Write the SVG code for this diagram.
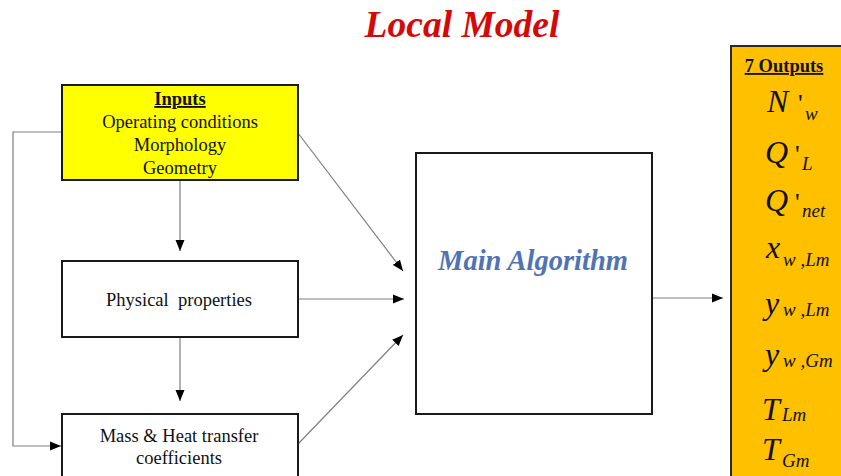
<svg xmlns="http://www.w3.org/2000/svg" width="841" height="476" viewBox="0 0 841 476">
  <style>
    .box { fill: #ffffff; stroke: #1a1a1a; stroke-width: 2; }
    .lbl { font-family: "Liberation Serif", "Times New Roman", serif; font-size: 18.5px; fill: #111; text-anchor: middle; }
    .bold { font-weight: bold; text-decoration: underline; }
    .conn { fill: none; stroke: #7f7f7f; stroke-width: 1.2; marker-end: url(#arrow); }
    .m { font-family: "Liberation Serif", "Times New Roman", serif; font-style: italic; font-size: 32px; fill: #111; }
    .s { font-size: 19px; }
    .p { font-style: normal; font-size: 26px; }
  </style>
  <defs>
    <marker id="arrow" markerUnits="userSpaceOnUse" markerWidth="12" markerHeight="10" refX="11" refY="5" orient="auto">
      <path d="M0,0.5 L11,5 L0,9.5 z" fill="#000"/>
    </marker>
  </defs>
  <rect width="841" height="476" fill="#ffffff"/>

  <!-- title -->
  <text x="462" y="37" font-family="'Liberation Serif', 'Times New Roman', serif" font-size="37.5" font-weight="bold" font-style="italic" fill="#d40a0a" text-anchor="middle">Local Model</text>

  <!-- connectors -->
  <g id="connectors">
    <path class="conn" d="M180,180 V251"/>
    <path class="conn" d="M180,337 V401"/>
    <path class="conn" d="M62,132 H13 V446 H61"/>
    <path class="conn" d="M298,299 H404"/>
    <path class="conn" d="M298,133 L403,271"/>
    <path class="conn" d="M298,444 L403,335"/>
    <path class="conn" d="M652,298 H723"/>
  </g>

  <!-- inputs -->
  <g id="inputs">
    <rect x="62" y="85" width="236" height="95" fill="#ffff00" stroke="#1a1a1a" stroke-width="2"/>
    <text class="lbl bold" x="180" y="105">Inputs</text>
    <text class="lbl" x="180" y="128">Operating conditions</text>
    <text class="lbl" x="180" y="151">Morphology</text>
    <text class="lbl" x="180" y="174">Geometry</text>
  </g>

  <!-- physical properties -->
  <g id="physical">
    <rect class="box" x="62" y="261" width="236" height="76"/>
    <text class="lbl" x="179" y="306" xml:space="preserve">Physical  properties</text>
  </g>

  <!-- transfer coefficients -->
  <g id="coefficients">
    <rect class="box" x="62" y="414" width="236" height="70"/>
    <text class="lbl" x="179" y="442">Mass &amp; Heat transfer</text>
    <text class="lbl" x="179" y="464">coefficients</text>
  </g>

  <!-- main algorithm -->
  <g id="main">
    <rect class="box" x="416" y="153" width="236" height="261"/>
    <text x="533" y="270" font-family="'Liberation Serif', 'Times New Roman', serif" font-size="28.5" font-weight="bold" font-style="italic" fill="#4f73b4" text-anchor="middle">Main Algorithm</text>
  </g>

  <!-- outputs: symbols with primes and subscripts -->
  <g id="outputs">
    <rect x="731" y="46" width="120" height="440" fill="#ffc000" stroke="#2a2a2a" stroke-width="2"/>
    <text class="lbl bold" x="784" y="72" font-size="19.5">7 Outputs</text>
    <text class="m" x="767" y="112">N<tspan class="p" x="798">'</tspan><tspan class="s" x="805" y="120">w</tspan></text>
    <text class="m" x="765" y="163">Q<tspan class="p" x="795">'</tspan><tspan class="s" x="802" y="170">L</tspan></text>
    <text class="m" x="765" y="211">Q<tspan class="p" x="795">'</tspan><tspan class="s" x="802" y="217">net</tspan></text>
    <text class="m" x="766" y="258">x<tspan class="s" x="783" y="266">w ,Lm</tspan></text>
    <text class="m" x="765" y="314">y<tspan class="s" x="783" y="316">w ,Lm</tspan></text>
    <text class="m" x="765" y="365">y<tspan class="s" x="783" y="367">w ,Gm</tspan></text>
    <text class="m" x="762" y="420">T<tspan class="s" x="782" y="421">Lm</tspan></text>
    <text class="m" x="762" y="460">T<tspan class="s" x="782" y="467">Gm</tspan></text>
  </g>
</svg>
